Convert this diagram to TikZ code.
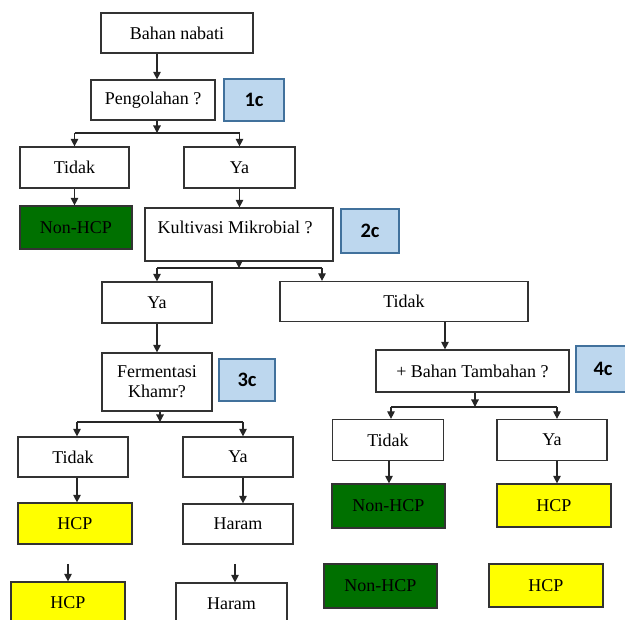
\documentclass[tikz,border=0pt]{standalone}
\usepackage{fontspec}
\setmainfont{Liberation Serif}
\newfontfamily\carlito{Carlito}
\usetikzlibrary{arrows.meta}
\definecolor{hgreen}{RGB}{0,112,0}
\definecolor{hyellow}{RGB}{255,255,0}
\definecolor{cblue}{RGB}{189,215,238}
\definecolor{cborder}{RGB}{65,113,156}
\begin{document}
\begin{tikzpicture}[x=1pt,y=-1pt,
  box/.style={draw=black!80, line width=1.2pt, fill=white, inner sep=0pt,
    font=\fontsize{18}{20}\selectfont, align=center},
  green/.style={box, fill=hgreen},
  yellow/.style={box, fill=hyellow},
  cbox/.style={draw=cborder, fill=cblue, line width=1.5pt, inner sep=0pt,
    font=\carlito\bfseries\fontsize{20.5}{22}\selectfont},
  arr/.style={-{Triangle[length=7.5pt,width=7.5pt]}, line width=1.2pt, draw=black!85},
  ln/.style={line width=1.2pt, draw=black!85},
  txt/.style={inner sep=0pt, font=\fontsize{18}{20}\selectfont}]
\useasboundingbox (0,0) rectangle (625,620);
\clip (0,0) rectangle (625,620);

% top
\node[box, minimum width=152, minimum height=40] (bahan) at (177,33) {Bahan nabati};
\node[box, minimum width=124, minimum height=40] (peng) at (153,100) {Pengolahan ?};
\node[cbox, minimum width=60, minimum height=42] (c1) at (254,100) {1c};
\coordinate (j1) at (157,133);
\node[box, minimum width=109, minimum height=41] (tidak1) at (74.5,167.5) {Tidak};
\node[box, minimum width=111, minimum height=41] (ya1) at (239.5,167.5) {Ya};
\node[green, minimum width=112, minimum height=43] (nonhcp1) at (76,227.5) {Non-HCP};

\node[box, minimum width=188, minimum height=53] (kult) at (239,234.5) {};
\node[txt] (kultt) at (235,227) {Kultivasi Mikrobial ?};
\node[cbox, minimum width=58, minimum height=44] (c2) at (370,231) {2c};
\coordinate (j2) at (239,268);
\coordinate (j2r) at (322,268);
\node[box, minimum width=110, minimum height=41] (ya2) at (157,302.5) {Ya};
\node[box, minimum width=248, minimum height=40] (tidak2) at (404,301.5) {Tidak};

% right branch
\node[box, minimum width=193, minimum height=42] (bt) at (472.5,371) {+ Bahan Tambahan ?};
\node[cbox, minimum width=54, minimum height=46] (c4) at (603,369) {4c};
\coordinate (t2o) at (445,0);
\coordinate (j3) at (475,407);
\coordinate (j3l) at (391,407);
\coordinate (j3r) at (557,407);
\node[box, minimum width=111, minimum height=41] (tidak3) at (388,440) {Tidak};
\node[box, minimum width=110, minimum height=41] (ya3) at (552,440) {Ya};
\coordinate (t3o) at (389,0);
\node[green, minimum width=113, minimum height=44] (nonhcp2) at (388.5,506) {Non-HCP};
\node[yellow, minimum width=114, minimum height=43] (hcpr) at (554,505.5) {HCP};
\node[green, minimum width=113, minimum height=44] (nonhcp3) at (380.5,586) {Non-HCP};
\node[yellow, minimum width=114, minimum height=43] (hcpr2) at (546,585.5) {HCP};

% left branch
\node[box, minimum width=110, minimum height=58] (ferm) at (157,382) {Fermentasi\\Khamr?};
\node[cbox, minimum width=56, minimum height=42] (c3) at (247,380) {3c};
\coordinate (j4) at (160,422);
\coordinate (j4l) at (77,422);
\coordinate (j4r) at (243,422);
\node[box, minimum width=110, minimum height=40] (tidak4) at (73,457) {Tidak};
\node[box, minimum width=110, minimum height=40] (ya4) at (238,457) {Ya};
\node[yellow, minimum width=114, minimum height=41] (hcpl) at (75,523.5) {HCP};
\node[box, minimum width=110, minimum height=40] (haram1) at (238,524) {Haram};
\coordinate (fl) at (68,564);
\coordinate (fr) at (235,564);
\node[yellow, minimum width=114, minimum height=42] (hcpl2) at (68,603) {HCP};
\node[box, minimum width=111, minimum height=42] (haram2) at (231.5,604) {Haram};

% connectors top
\draw[arr] (bahan.south -| j1) -- (peng.north -| j1);
\draw[arr] (peng.south -| j1) -- (j1);
\draw[ln] (tidak1.north |- j1) -- (ya1.north |- j1);
\draw[arr] (tidak1.north |- j1) -- (tidak1.north);
\draw[arr] (ya1.north |- j1) -- (ya1.north);
\draw[arr] (tidak1.south) -- (tidak1.south |- nonhcp1.north);
\draw[arr] (ya1.south) -- (ya1.south |- kult.north);
\draw[arr] (kult.south -| j2) -- (j2);
\draw[ln] (ya2.north |- j2) -- (j2r);
\draw[arr] (ya2.north |- j2) -- (ya2.north);
\draw[arr] (j2r) -- (tidak2.north -| j2r);

% connectors right
\draw[arr] (tidak2.south -| t2o) -- (bt.north -| t2o);
\draw[arr] (bt.south -| j3) -- (j3);
\draw[ln] (j3l) -- (j3r);
\draw[arr] (j3l) -- (tidak3.north -| j3l);
\draw[arr] (j3r) -- (ya3.north -| j3r);
\draw[arr] (tidak3.south -| t3o) -- (nonhcp2.north -| t3o);
\draw[arr] (ya3.south -| j3r) -- (hcpr.north -| j3r);

% connectors left
\draw[arr] (ya2.south) -- (ferm.north);
\draw[arr] (ferm.south -| j4) -- (j4);
\draw[ln] (j4l) -- (j4r);
\draw[arr] (j4l) -- (tidak4.north -| j4l);
\draw[arr] (j4r) -- (ya4.north -| j4r);
\draw[arr] (tidak4.south -| j4l) -- (hcpl.north -| j4l);
\draw[arr] (ya4.south -| j4r) -- (haram1.north -| j4r);
\draw[arr] (fl) -- (fl |- hcpl2.north);
\draw[arr] (fr) -- (fr |- haram2.north);
\end{tikzpicture}
\end{document}
